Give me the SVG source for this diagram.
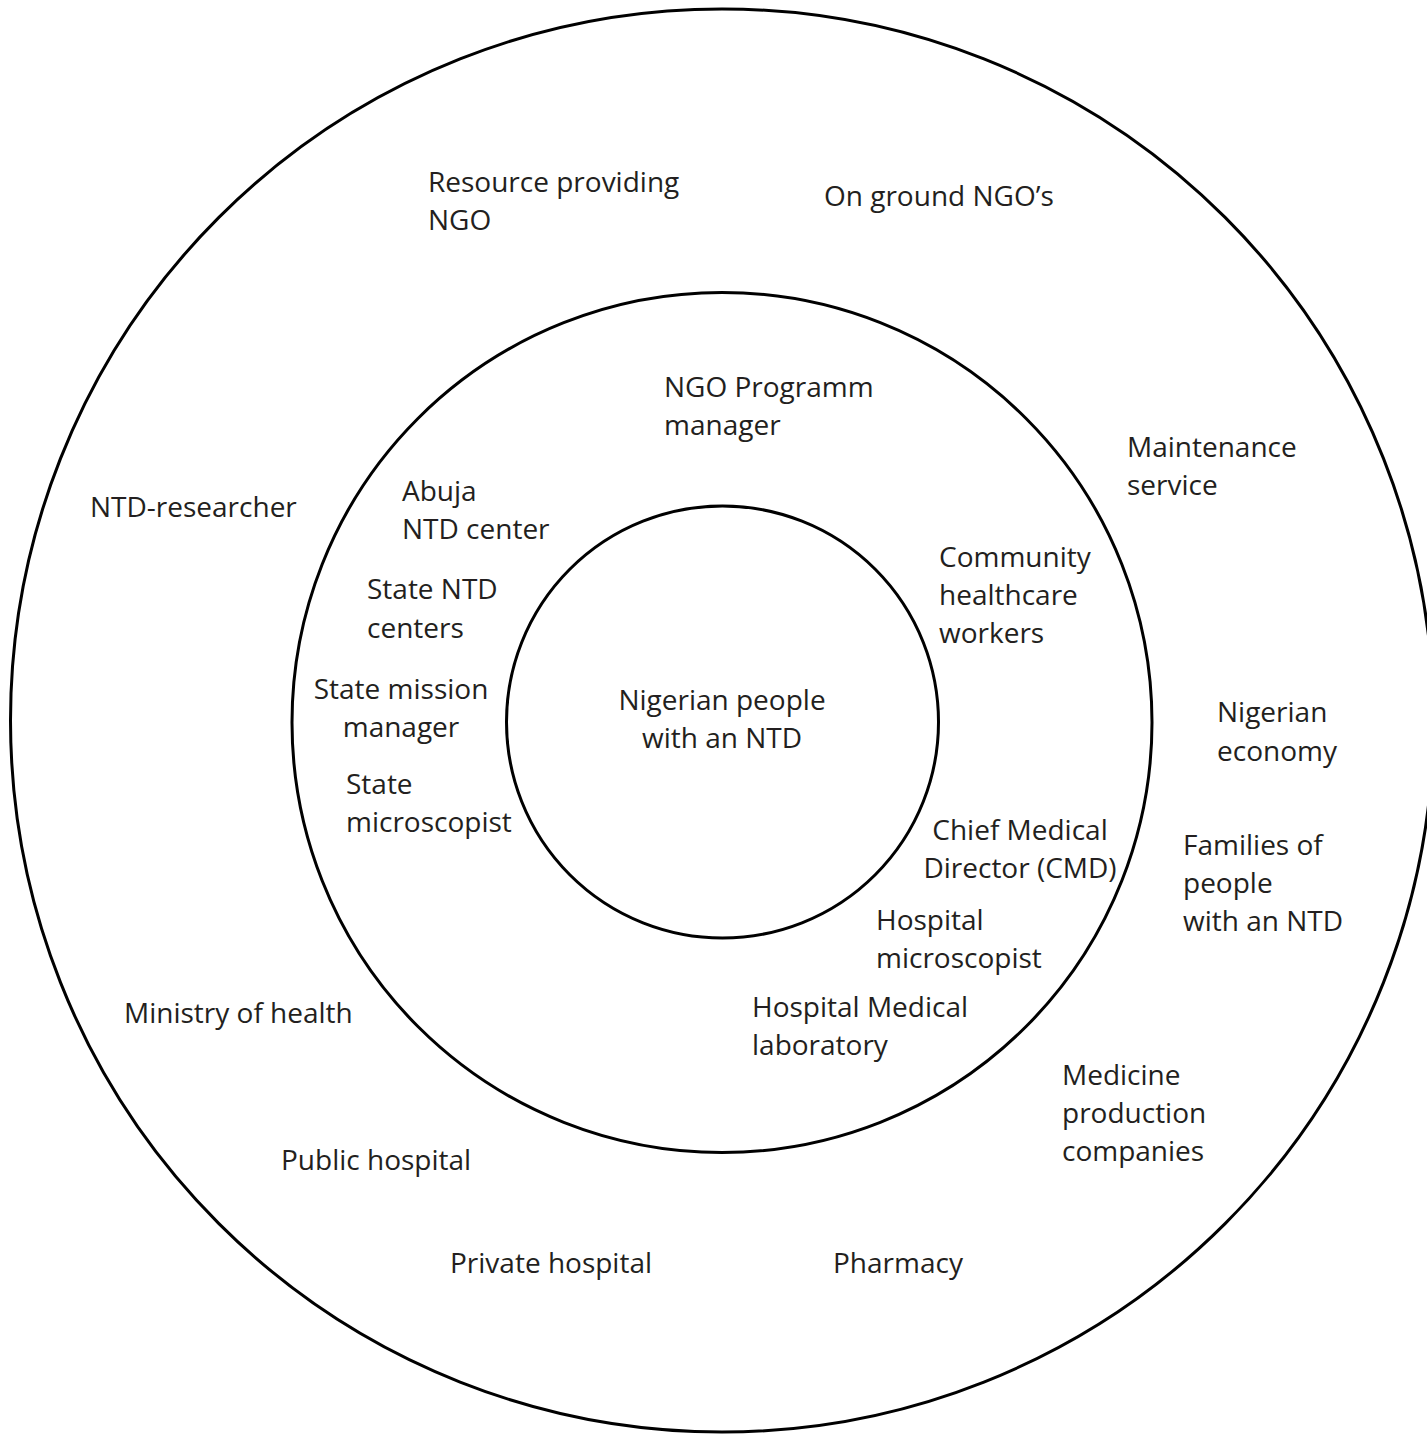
<svg xmlns="http://www.w3.org/2000/svg" width="1427" height="1434" viewBox="0 0 1427 1434">
  <style>
    .ring { fill: none; stroke: #000; stroke-width: 3; }
    .lbl { font-family: "Open Sans", "Noto Sans", "Liberation Sans", sans-serif; font-size: 28px; fill: #231f20; }
    .mid { text-anchor: middle; }
  </style>
  <rect width="1427" height="1434" fill="#fff"/>

  <!-- stakeholder rings: outer, middle, core -->
  <g id="rings">
    <circle id="ring-outer" class="ring" cx="722" cy="720.5" r="711.5"/>
    <circle id="ring-middle" class="ring" cx="722" cy="722.5" r="430"/>
    <circle id="ring-core" class="ring" cx="722.5" cy="722" r="216"/>
  </g>

  <!-- core -->
  <g id="node-nigerian-people">
    <text class="lbl mid" x="722" y="710">Nigerian people</text>
    <text class="lbl mid" x="722" y="748">with an NTD</text>
  </g>

  <!-- middle ring -->
  <g id="node-ngo-programm-manager">
    <text class="lbl" x="664" y="397">NGO Programm</text>
    <text class="lbl" x="664" y="435">manager</text>
  </g>
  <g id="node-abuja-ntd-center">
    <text class="lbl" x="402" y="501">Abuja</text>
    <text class="lbl" x="402" y="539">NTD center</text>
  </g>
  <g id="node-community-healthcare-workers">
    <text class="lbl" x="939" y="567">Community</text>
    <text class="lbl" x="939" y="605">healthcare</text>
    <text class="lbl" x="939" y="643">workers</text>
  </g>
  <g id="node-state-ntd-centers">
    <text class="lbl" x="367" y="599">State NTD</text>
    <text class="lbl" x="367" y="638">centers</text>
  </g>
  <g id="node-state-mission-manager">
    <text class="lbl mid" x="401" y="699">State mission</text>
    <text class="lbl mid" x="401" y="737">manager</text>
  </g>
  <g id="node-state-microscopist">
    <text class="lbl" x="346" y="794">State</text>
    <text class="lbl" x="346" y="832">microscopist</text>
  </g>
  <g id="node-chief-medical-director">
    <text class="lbl mid" x="1020" y="840">Chief Medical</text>
    <text class="lbl mid" x="1020" y="878">Director (CMD)</text>
  </g>
  <g id="node-hospital-microscopist">
    <text class="lbl" x="876" y="930">Hospital</text>
    <text class="lbl" x="876" y="968">microscopist</text>
  </g>
  <g id="node-hospital-medical-laboratory">
    <text class="lbl" x="752" y="1017">Hospital Medical</text>
    <text class="lbl" x="752" y="1055">laboratory</text>
  </g>

  <!-- outer ring -->
  <g id="node-resource-providing-ngo">
    <text class="lbl" x="428" y="192">Resource providing</text>
    <text class="lbl" x="428" y="230">NGO</text>
  </g>
  <g id="node-on-ground-ngos">
    <text class="lbl" x="824" y="206">On ground NGO’s</text>
  </g>
  <g id="node-maintenance-service">
    <text class="lbl" x="1127" y="457">Maintenance</text>
    <text class="lbl" x="1127" y="495">service</text>
  </g>
  <g id="node-ntd-researcher">
    <text class="lbl" x="90" y="517">NTD-researcher</text>
  </g>
  <g id="node-nigerian-economy">
    <text class="lbl" x="1217" y="722">Nigerian</text>
    <text class="lbl" x="1217" y="761">economy</text>
  </g>
  <g id="node-families">
    <text class="lbl" x="1183" y="855">Families of</text>
    <text class="lbl" x="1183" y="893">people</text>
    <text class="lbl" x="1183" y="931">with an NTD</text>
  </g>
  <g id="node-ministry-of-health">
    <text class="lbl" x="124" y="1023">Ministry of health</text>
  </g>
  <g id="node-medicine-production">
    <text class="lbl" x="1062" y="1085">Medicine</text>
    <text class="lbl" x="1062" y="1123">production</text>
    <text class="lbl" x="1062" y="1161">companies</text>
  </g>
  <g id="node-public-hospital">
    <text class="lbl" x="281" y="1170">Public hospital</text>
  </g>
  <g id="node-private-hospital">
    <text class="lbl" x="450" y="1273">Private hospital</text>
  </g>
  <g id="node-pharmacy">
    <text class="lbl" x="833" y="1273">Pharmacy</text>
  </g>
</svg>
